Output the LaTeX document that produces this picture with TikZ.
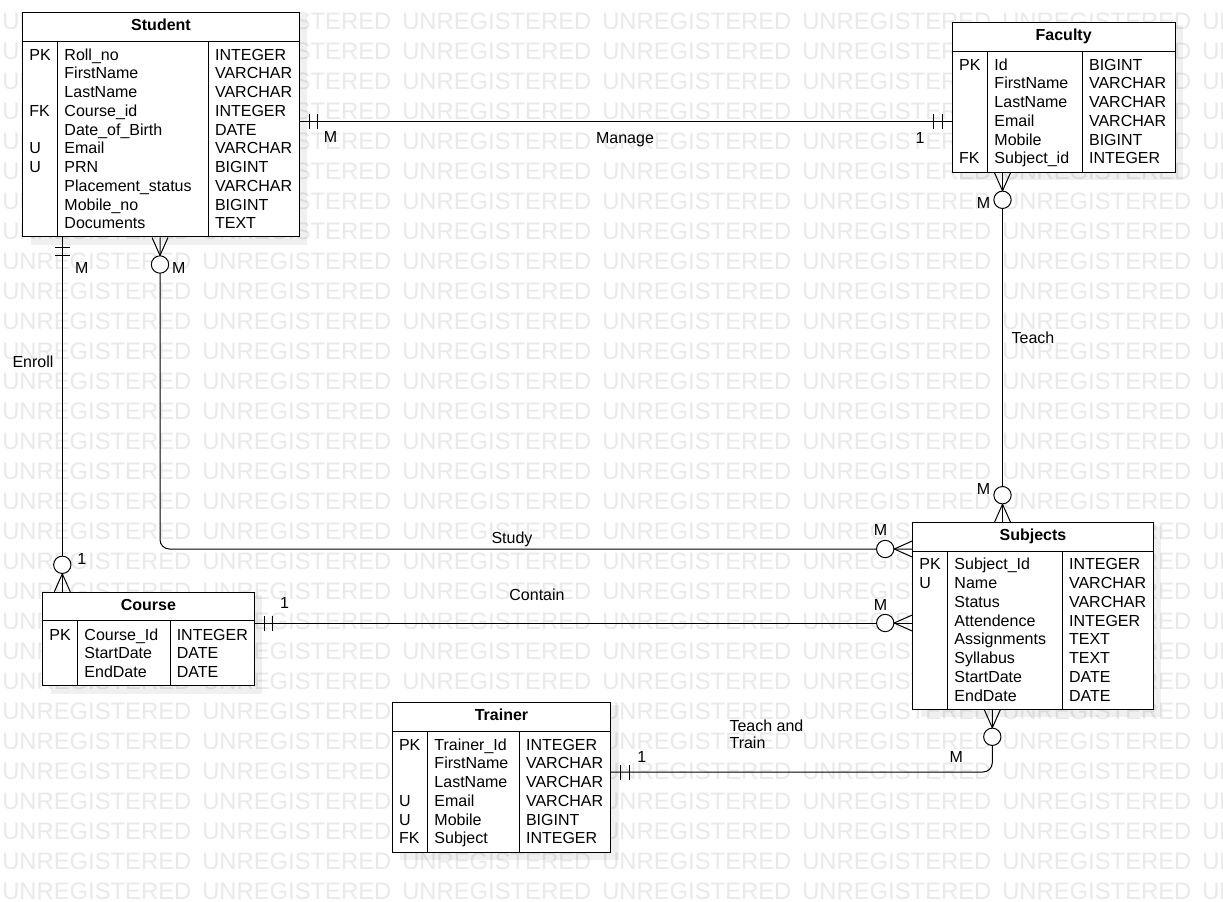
\documentclass[tikz,border=0pt]{standalone}
\usepackage{fontspec}
\setmainfont{Liberation Sans}
\usetikzlibrary{fit,calc}
\definecolor{wm}{gray}{0.915}

\tikzset{
  tbl/.style={draw, line width=0.75pt, fill=white, inner sep=0pt},
  cell/.style={anchor=west, inner sep=0pt, text height=8.6pt, text depth=0pt, font=\fontsize{12}{14}\selectfont},
  ttl/.style={inner sep=0pt, text height=8.6pt, text depth=0pt, font=\bfseries\fontsize{12}{14}\selectfont},
  lbl/.style={inner sep=0pt, text height=8.6pt, text depth=0pt, font=\fontsize{12}{14}\selectfont},
  conn/.style={line width=0.75pt},
  wmtext/.style={anchor=west, inner sep=0pt, text height=12.8pt, text depth=0pt, text=wm, font=\fontsize{17.85}{17.85}\selectfont},
}

% #1 id, #2 x0,y0, #3 x1,y1, #4 header y, #5 divider 1 x, #6 divider 2 x, #7 title, #8 first row y, #9 rows
\newcommand\ertable[9]{%
  \path (#2) coordinate (#1-nw) (#3) coordinate (#1-se);
  \fill[black, fill opacity=0.06] ($(#1-nw)+(8,3)$) rectangle ($(#1-se)+(8,8)$);
  \node[tbl, fit=(#1-nw)(#1-se)] (#1) {};
  \draw[conn] (#1.west |- 0,#4) -- (#1.east |- 0,#4);
  \draw[conn] (#1.south -| #5,#4) -- (#5,#4);
  \draw[conn] (#1.south -| #6,#4) -- (#6,#4);
  \node[ttl] (#1-title) at ($(#1.north)+(0,12.7)$) {#7};
  \foreach \k/\n/\t [count=\i] in {#9} {
    \pgfmathsetmacro\ry{#8+(\i-1)*18.75}
    \node[cell] (#1-k\i) at ($(#1.west |- 0,\ry)+(7,0)$) {\k};
    \node[cell] (#1-n\i) at (#5+6.5,\ry) {\n};
    \node[cell] (#1-t\i) at (#6+6.5,\ry) {\t};
  }
}
\newcommand\mandone[2]{\begin{scope}[shift={(#1)},rotate=#2]
  \draw[conn] (9.5,-7.5)--(9.5,7.5) (18,-7.5)--(18,7.5);\end{scope}}
\newcommand\zeromany[2]{\begin{scope}[shift={(#1)},rotate=#2]
  \draw[conn] (0,8)--(18,0)--(0,-8);
  \draw[conn, fill=white] (27,0) circle[radius=6.5pt];\end{scope}}

\begin{document}
\begin{tikzpicture}[x=0.75pt,y=-0.75pt]
\useasboundingbox (0,0) rectangle (1223,902);
\fill[white] (0,0) rectangle (1223,902);

% watermark
\begin{scope}
  \clip (0,0) rectangle (1223,902);
  \foreach \r in {0,...,29}{
    \foreach \c in {0,...,6}{
      \node[wmtext] (wm-\r-\c) at (2+200*\c, 21+30*\r) {UNREGISTERED};
    }
  }
\end{scope}

% tables
\ertable{student}{22.7,12.3}{299.3,237}{41.7}{57.7}{208.3}{Student}{54.5}{
  PK/Roll\_no/INTEGER, /FirstName/VARCHAR, /LastName/VARCHAR, FK/Course\_id/INTEGER,
  /Date\_of\_Birth/DATE, U/Email/VARCHAR, U/PRN/BIGINT, /Placement\_status/VARCHAR,
  /Mobile\_no/BIGINT, /Documents/TEXT}
\ertable{faculty}{952.3,22.3}{1175,172.3}{51.7}{987.7}{1082.3}{Faculty}{64.5}{
  PK/Id/BIGINT, /FirstName/VARCHAR, /LastName/VARCHAR, /Email/VARCHAR,
  /Mobile/BIGINT, FK/Subject\_id/INTEGER}
\ertable{course}{42.7,592.3}{254,685.7}{620}{77.7}{170}{Course}{634.3}{
  PK/Course\_Id/INTEGER, /StartDate/DATE, /EndDate/DATE}
\ertable{subjects}{912.7,522.7}{1153.3,709.3}{551}{947.7}{1062.3}{Subjects}{564.2}{
  PK/Subject\_Id/INTEGER, U/Name/VARCHAR, /Status/VARCHAR, /Attendence/INTEGER,
  /Assignments/TEXT, /Syllabus/TEXT, /StartDate/DATE, /EndDate/DATE}
\ertable{trainer}{392.3,702.3}{610.7,852.3}{731}{427.7}{519.3}{Trainer}{744.5}{
  PK/Trainer\_Id/INTEGER, /FirstName/VARCHAR, /LastName/VARCHAR, U/Email/VARCHAR,
  U/Mobile/BIGINT, FK/Subject/INTEGER}

% connectors
\draw[conn] (student.east |- 0,122) -- (faculty.west |- 0,122);
\mandone{student.east |- 0,122}{0}
\mandone{faculty.west |- 0,122}{180}

\draw[conn] (student.south -| 62.3,0) -- (course.north -| 62.3,0);
\mandone{student.south -| 62.3,0}{-90}
\zeromany{course.north -| 62.3,0}{90}

\draw[conn, rounded corners=7pt] (student.south -| 160,0) -- (160,549) -- (subjects.west |- 0,549);
\zeromany{student.south -| 160,0}{-90}
\zeromany{subjects.west |- 0,549}{180}

\draw[conn] (course.east |- 0,623) -- (subjects.west |- 0,623);
\mandone{course.east |- 0,623}{0}
\zeromany{subjects.west |- 0,623}{180}

\draw[conn] (faculty.south -| 1002.5,0) -- (subjects.north -| 1002.5,0);
\zeromany{faculty.south -| 1002.5,0}{-90}
\zeromany{subjects.north -| 1002.5,0}{90}

\draw[conn, rounded corners=7pt] (trainer.east |- 0,772) -- (992.3,772) -- (subjects.south -| 992.3,0);
\mandone{trainer.east |- 0,772}{0}
\zeromany{subjects.south -| 992.3,0}{-90}

% labels
\node[lbl] (l-manage-m) at (330.5,136.7) {M};
\node[lbl] (l-manage-1) at (920,138) {1};
\node[lbl] (l-manage) at (625,138) {Manage};
\node[lbl] (l-enroll-m) at (81.7,267.5) {M};
\node[lbl] (l-study-m1) at (178.8,267.5) {M};
\node[lbl] (l-enroll) at (33,362) {Enroll};
\node[lbl] (l-enroll-1) at (81.7,558.7) {1};
\node[lbl] (l-contain-1) at (284.5,602.3) {1};
\node[lbl] (l-study) at (512,538) {Study};
\node[lbl] (l-contain) at (537,595) {Contain};
\node[lbl] (l-study-m2) at (880.5,529.5) {M};
\node[lbl] (l-contain-m) at (880.5,604.5) {M};
\node[lbl] (l-teach-m1) at (983.5,202.7) {M};
\node[lbl] (l-teach) at (1033,338) {Teach};
\node[lbl] (l-teach-m2) at (983.5,488.7) {M};
\node[anchor=north west, inner sep=0pt, align=left, font=\fontsize{12}{12.75}\selectfont] (l-tt) at (729.3,719.5) {Teach and\\Train};
\node[lbl] (l-tt-1) at (641.7,757.2) {1};
\node[lbl] (l-tt-m) at (956.2,757) {M};
\end{tikzpicture}
\end{document}
